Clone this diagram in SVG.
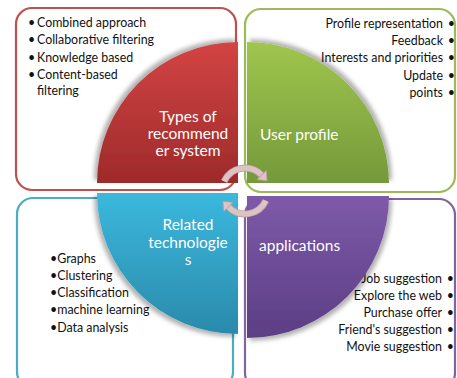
<svg xmlns="http://www.w3.org/2000/svg" width="457" height="378" viewBox="0 0 457 378">
  <style>
    .box { fill: #ffffff; stroke-width: 2.2; }
    .item { font-family: Lato, "Liberation Sans", sans-serif; font-size: 12.4px; fill: #111111; }
    .right { text-anchor: end; }
    .title { font-family: Lato, "Liberation Sans", sans-serif; font-size: 15.5px; fill: #ffffff; }
    .mid { text-anchor: middle; }
    .cycle { fill: none; stroke: #dcc4c4; stroke-width: 5.5; }
    .cycle-edge { fill: none; stroke: #bb9a9a; stroke-width: 7; }
  </style>
  <defs>
    <linearGradient id="gRed" x1="0" y1="0" x2="0" y2="1">
      <stop offset="0" stop-color="#d34444"/>
      <stop offset="1" stop-color="#9e2a2a"/>
    </linearGradient>
    <linearGradient id="gGreen" x1="0" y1="0" x2="0" y2="1">
      <stop offset="0" stop-color="#a0c64e"/>
      <stop offset="1" stop-color="#74993a"/>
    </linearGradient>
    <linearGradient id="gBlue" x1="0" y1="0" x2="0" y2="1">
      <stop offset="0" stop-color="#3bb8dd"/>
      <stop offset="1" stop-color="#2a8aab"/>
    </linearGradient>
    <linearGradient id="gPurple" x1="0" y1="0" x2="0" y2="1">
      <stop offset="0" stop-color="#7e5aa9"/>
      <stop offset="1" stop-color="#5b3e84"/>
    </linearGradient>
    <filter id="shTL" x="-10%" y="-10%" width="120%" height="120%">
      <feDropShadow dx="-3" dy="-3" stdDeviation="2" flood-color="#000" flood-opacity="0.3"/>
    </filter>
    <filter id="shTR" x="-10%" y="-10%" width="120%" height="120%">
      <feDropShadow dx="3" dy="-3" stdDeviation="2" flood-color="#000" flood-opacity="0.3"/>
    </filter>
    <filter id="shBL" x="-10%" y="-10%" width="120%" height="120%">
      <feDropShadow dx="-3" dy="3" stdDeviation="2" flood-color="#000" flood-opacity="0.3"/>
    </filter>
    <filter id="shBR" x="-10%" y="-10%" width="120%" height="120%">
      <feDropShadow dx="3" dy="3" stdDeviation="2" flood-color="#000" flood-opacity="0.3"/>
    </filter>
    <marker id="head" markerUnits="userSpaceOnUse" markerWidth="16" markerHeight="16" viewBox="-1 -8 11 16" refX="0" refY="0" orient="auto">
      <path d="M0,-6.5 L8,0 L0,6.5 Z" fill="#dcc4c4" stroke="#bb9a9a" stroke-width="0.8"/>
    </marker>
  </defs>

  <!-- outer rounded frames with the bullet lists -->
  <g id="types-box">
    <rect class="box" x="16" y="8" width="220" height="182" rx="16" stroke="#c0504d"/>
    <g class="item">
      <text x="28" y="27">•</text><text x="37" y="27">Combined approach</text>
      <text x="28" y="44">•</text><text x="37" y="44">Collaborative filtering</text>
      <text x="28" y="62">•</text><text x="37" y="62">Knowledge based</text>
      <text x="28" y="79">•</text><text x="37" y="79">Content-based</text>
      <text x="37" y="95">filtering</text>
    </g>
  </g>
  <g id="profile-box">
    <rect class="box" x="245" y="9" width="210" height="183" rx="16" stroke="#9bbb59"/>
    <g class="item right">
      <text x="443" y="28">Profile representation</text><text x="455" y="28">•</text>
      <text x="443" y="45">Feedback</text><text x="455" y="45">•</text>
      <text x="443" y="62">Interests and priorities</text><text x="455" y="62">•</text>
      <text x="443" y="80">Update</text><text x="455" y="80">•</text>
      <text x="443" y="97">points</text><text x="455" y="97">•</text>
    </g>
  </g>
  <g id="tech-box">
    <rect class="box" x="17" y="198" width="216" height="190" rx="16" stroke="#4bacc6"/>
    <g class="item">
      <text x="50" y="263">•Graphs</text>
      <text x="50" y="280">•Clustering</text>
      <text x="50" y="297">•Classification</text>
      <text x="50" y="314">•machine learning</text>
      <text x="50" y="332">•Data analysis</text>
    </g>
  </g>
  <g id="apps-box">
    <rect class="box" x="245" y="199" width="210" height="190" rx="16" stroke="#8064a2"/>
    <g class="item right">
      <text x="442" y="283">Job suggestion</text><text x="454" y="283">•</text>
      <text x="442" y="300">Explore the web</text><text x="454" y="300">•</text>
      <text x="442" y="317">Purchase offer</text><text x="454" y="317">•</text>
      <text x="442" y="334">Friend's suggestion</text><text x="454" y="334">•</text>
      <text x="442" y="351">Movie suggestion</text><text x="454" y="351">•</text>
    </g>
  </g>

  <!-- four quarter-disc segments -->
  <g id="types">
    <path d="M238,183 L97,183 A141,141 0 0 1 238,42 Z" fill="url(#gRed)" filter="url(#shTL)"/>
    <text class="title mid" x="188" y="122">Types of</text>
    <text class="title mid" x="188" y="139">recommend</text>
    <text class="title mid" x="188" y="156">er system</text>
  </g>
  <g id="profile">
    <path d="M247,183 L247,42 A142,142 0 0 1 389,183 Z" fill="url(#gGreen)" filter="url(#shTR)"/>
    <text class="title" x="260" y="140">User profile</text>
  </g>
  <g id="tech">
    <path d="M238,193 L238,334 A141,141 0 0 1 97,193 Z" fill="url(#gBlue)" filter="url(#shBL)"/>
    <text class="title mid" x="188" y="230">Related</text>
    <text class="title mid" x="188" y="248">technologie</text>
    <text class="title mid" x="188" y="265">s</text>
  </g>
  <g id="apps">
    <path d="M247,196 L389,196 A142,142 0 0 1 247,338 Z" fill="url(#gPurple)" filter="url(#shBR)"/>
    <text class="title" x="259" y="251">applications</text>
  </g>

  <!-- circular arrows in the middle (centre 245,191, r 23) -->
  <g id="connectors">
    <path class="cycle-edge" d="M224.2,181.3 A23,23 0 0 1 261.6,175.1"/>
    <path class="cycle" d="M224.2,181.3 A23,23 0 0 1 261.6,175.1" marker-end="url(#head)"/>
    <path class="cycle-edge" d="M265.8,200.7 A23,23 0 0 1 228.4,206.9"/>
    <path class="cycle" d="M265.8,200.7 A23,23 0 0 1 228.4,206.9" marker-end="url(#head)"/>
  </g>
</svg>
